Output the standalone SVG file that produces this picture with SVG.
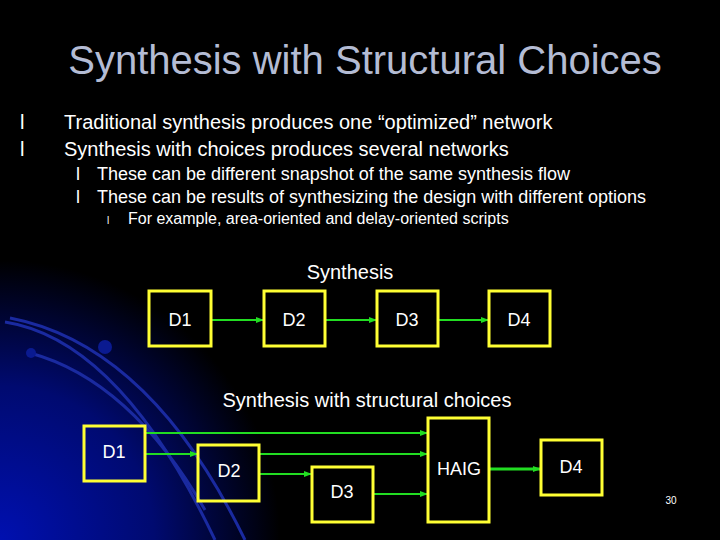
<svg xmlns="http://www.w3.org/2000/svg" width="720" height="540" viewBox="0 0 720 540">
<defs>
<radialGradient id="bg" cx="0" cy="540" r="280" gradientUnits="userSpaceOnUse">
<stop offset="0" stop-color="#0010b0"/><stop offset="0.55" stop-color="#000a70"/><stop offset="1" stop-color="#000"/>
</radialGradient>
<marker id="ah" markerWidth="8" markerHeight="6" refX="8" refY="3" orient="auto" markerUnits="userSpaceOnUse"><path d="M0,0L8,3L0,6z" fill="#22dd22"/></marker>
</defs>
<style>
text{font-family:"Liberation Sans",Arial,sans-serif;fill:#fff}
.t{font-size:40px;fill:#b4bcd4}
.b1{font-size:20px}.b2{font-size:18px}.b3{font-size:16px}
.n rect{fill:none;stroke:#ffff33;stroke-width:3}
.n text{font-size:18px;text-anchor:middle}
.c line{stroke:#22dd22;stroke-width:2;marker-end:url(#ah)}
.arc{fill:none;stroke:#1a2aa0;stroke-width:3}
</style>
<rect width="720" height="540" fill="#000"/>
<rect width="720" height="540" fill="url(#bg)"/>
<path class="arc" d="M10,318 Q150,345 245,540"/>
<path class="arc" d="M5,322 Q120,340 215,540"/>
<path class="arc" d="M30,353 Q130,380 205,510"/>
<circle cx="105" cy="347" r="7" fill="#0a1a90"/>
<circle cx="31" cy="353" r="5" fill="#0a1a90"/>
<text class="t" x="365" y="74" text-anchor="middle">Synthesis with Structural Choices</text>
<text class="b1" x="20" y="129" font-size="14">l</text><text class="b1" x="64" y="129">Traditional synthesis produces one “optimized” network</text>
<text class="b1" x="20" y="156" font-size="14">l</text><text class="b1" x="64" y="156">Synthesis with choices produces several networks</text>
<text class="b2" x="76" y="180" font-size="13">l</text><text class="b2" x="97" y="180">These can be different snapshot of the same synthesis flow</text>
<text class="b2" x="76" y="203" font-size="13">l</text><text class="b2" x="97" y="203">These can be results of synthesizing the design with different options</text>
<text x="107" y="224" font-size="10">l</text><text class="b3" x="128" y="224">For example, area-oriented and delay-oriented scripts</text>
<text x="350" y="279" font-size="20" text-anchor="middle">Synthesis</text>
<text x="367" y="407" font-size="20" text-anchor="middle">Synthesis with structural choices</text>
<text x="671" y="504" font-size="10" text-anchor="middle">30</text>
<g class="c">
<line x1="211" y1="320" x2="264" y2="320"/>
<line x1="325" y1="320" x2="377" y2="320"/>
<line x1="438" y1="320" x2="489" y2="320"/>
<line x1="145" y1="433" x2="428" y2="433"/>
<line x1="145" y1="454" x2="198" y2="454"/>
<line x1="259" y1="454" x2="428" y2="454"/>
<line x1="259" y1="474" x2="312" y2="474"/>
<line x1="373" y1="494" x2="428" y2="494"/>
<line x1="489" y1="469" x2="541" y2="469" style="stroke-width:3"/>
</g>
<g id="s1" class="n"><rect x="149" y="291" width="62" height="55"/><text x="180" y="326">D1</text></g>
<g id="s2" class="n"><rect x="264" y="291" width="61" height="55"/><text x="294" y="326">D2</text></g>
<g id="s3" class="n"><rect x="377" y="291" width="61" height="55"/><text x="407" y="326">D3</text></g>
<g id="s4" class="n"><rect x="489" y="291" width="61" height="55"/><text x="519" y="326">D4</text></g>
<g id="c1" class="n"><rect x="84" y="426" width="61" height="55"/><text x="114" y="458">D1</text></g>
<g id="c2" class="n"><rect x="198" y="445" width="61" height="56"/><text x="229" y="477">D2</text></g>
<g id="c3" class="n"><rect x="312" y="467" width="61" height="55"/><text x="342" y="498">D3</text></g>
<g id="haig" class="n"><rect x="428" y="418" width="61" height="104"/><text x="459" y="475">HAIG</text></g>
<g id="c4" class="n"><rect x="541" y="440" width="61" height="55"/><text x="571" y="473">D4</text></g>
</svg>
